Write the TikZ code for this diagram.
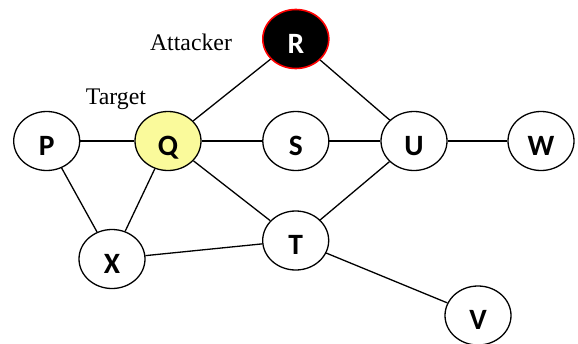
\documentclass[tikz,border=0pt]{standalone}
\usepackage{fontspec}
\usetikzlibrary{shapes.geometric}
\setmainfont{Liberation Serif}
\newfontfamily\lblfont{Carlito}
\begin{document}
\begin{tikzpicture}[x=1pt,y=-1pt,
  vtx/.style={ellipse,draw=black,line width=1.3pt,minimum width=66pt,minimum height=59pt,inner sep=0pt,fill=white},
  lbl/.style={inner sep=0pt,font=\lblfont\bfseries\fontsize{29.5}{30}\selectfont},
  edge/.style={line width=1.3pt},
  tag/.style={font=\fontsize{23.8}{24}\selectfont,inner sep=0pt}]
\useasboundingbox (0,0) rectangle (578,343);
\node[vtx] (P) at (46.7,141) {};
\node[vtx,fill={rgb,255:red,250;green,250;blue,155}] (Q) at (168,141) {};
\node[vtx] (S) at (295.8,141) {};
\node[vtx] (U) at (414,141) {};
\node[vtx] (W) at (541,141) {};
\node[vtx,fill=black,draw=red,line width=1.6pt] (R) at (295.8,39) {};
\node[vtx] (X) at (112,259) {};
\node[vtx] (T) at (295.7,240.5) {};
\node[vtx] (V) at (478,315.5) {};
\foreach \n in {P,Q,S,U,W,X,T,V}{
  \node[lbl,anchor=base] (l\n) at ([yshift=-14pt]\n.center) {\n};
}
\node[lbl,anchor=base,text=white] (lR) at ([yshift=-14pt]R.center) {R};
\node[tag,anchor=base] (att) at (191,50.5) {Attacker};
\node[tag,anchor=base] (tgt) at (116,104) {Target};
\draw[edge] (P) -- (Q);
\draw[edge] (Q) -- (S);
\draw[edge] (S) -- (U);
\draw[edge] (U) -- (W);
\draw[edge] (R) -- (Q);
\draw[edge] (R) -- (U);
\draw[edge] (P) -- (X);
\draw[edge] (Q) -- (X);
\draw[edge] (Q) -- (T);
\draw[edge] (U) -- (T);
\draw[edge] (X) -- (T);
\draw[edge] (T) -- (V);
\end{tikzpicture}
\end{document}
